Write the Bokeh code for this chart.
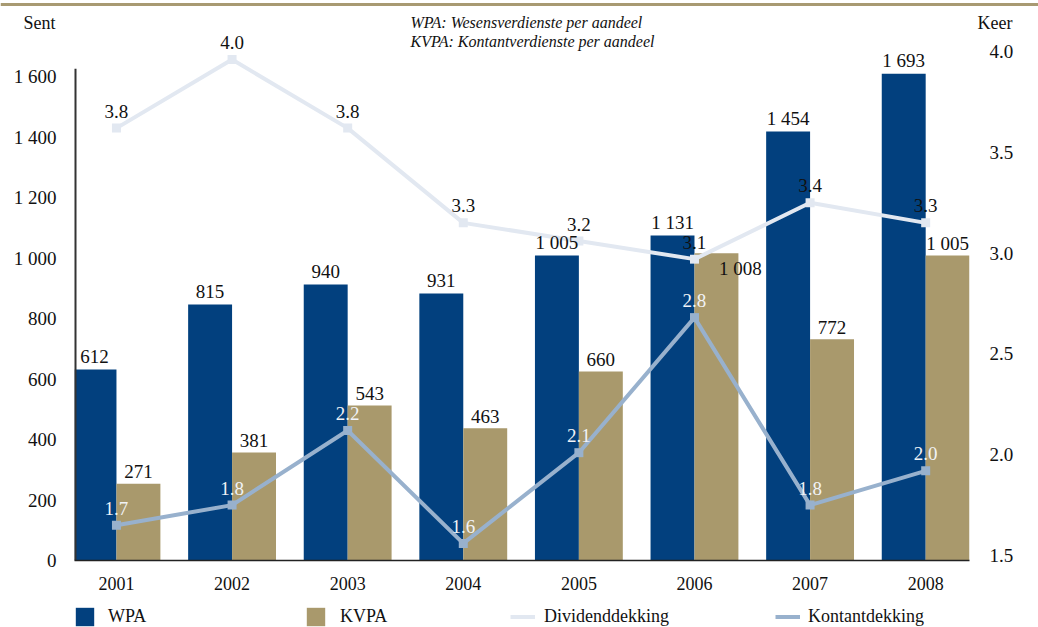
from bokeh.plotting import figure
from bokeh.layouts import column
from bokeh.models import (Range1d, LinearAxis, FixedTicker, Legend, LegendItem, Label,
                          ColumnDataSource, PrintfTickFormatter)
from bokeh.transform import dodge
from bokeh.embed import file_html
from bokeh.resources import INLINE
from bokeh.core.properties import value

# ---------------- data ----------------
years = ["2001", "2002", "2003", "2004", "2005", "2006", "2007", "2008"]
wpa = [631, 846, 912, 883, 1008, 1074, 1418, 1609]          # bar heights as drawn
kvpa = [254, 357, 512, 437, 625, 1016, 731, 1008]
wpa_labels = ["612", "815", "940", "931", "1 005", "1 131", "1 454", "1 693"]
kvpa_labels = ["271", "381", "543", "463", "660", "1 008", "772", "1 005"]
dividend = [3.62, 3.96, 3.62, 3.15, 3.06, 2.97, 3.25, 3.15]
dividend_labels = ["3.8", "4.0", "3.8", "3.3", "3.2", "3.1", "3.4", "3.3"]
kontant = [1.65, 1.75, 2.12, 1.56, 2.01, 2.68, 1.75, 1.92]
kontant_labels = ["1.7", "1.8", "2.2", "1.6", "2.1", "2.8", "1.8", "2.0"]
left_ticks = [0, 200, 400, 600, 800, 1000, 1200, 1400, 1600]
left_tick_labels = ["0", "200", "400", "600", "800", "1 000", "1 200", "1 400", "1 600"]
right_ticks = [1.5, 2.0, 2.5, 3.0, 3.5, 4.0]
series_names = ["WPA", "KVPA", "Dividenddekking", "Kontantdekking"]
left_unit, right_unit = "Sent", "Keer"
note_lines = ["WPA: Wesensverdienste per aandeel", "KVPA: Kontantverdienste per aandeel"]

# ---------------- style ----------------
FONT = "Liberation Serif"
BLUE = "#02407e"
GOLD = "#a9996c"
RULE = "#a89a72"
DIV_C = "#e2e8f1"
KON_C = "#98b1cd"
TXT = "#111111"
W = 1038

idx = list(range(len(years)))
kv_dx = [0] * len(years)
kv_dy = [-12] * len(years)
kv_dx[5] = 24          # crowded 2006 KVPA label sits right of / below the bar top
kv_dy[5] = 15

src = ColumnDataSource(dict(
    x=idx, wpa=wpa, kvpa=kvpa, wpa_lab=wpa_labels, kvpa_lab=kvpa_labels,
    div=dividend, div_lab=dividend_labels, kon=kontant, kon_lab=kontant_labels,
    kv_dx=kv_dx, kv_dy=kv_dy,
))

# ---------------- header strip ----------------
HH = 32
hdr = figure(width=W, height=HH, x_range=Range1d(0, W), y_range=Range1d(HH, 0),
             x_axis_location=None, y_axis_location=None, min_border=0, frame_align=False,
             output_backend="svg", toolbar_location=None)
hdr.grid.visible = False
hdr.outline_line_color = None
hdr.segment(x0=[0], y0=[4], x1=[W], y1=[4], line_color=RULE, line_width=3)
hdr.text(x=[23, 977], y=[22.5, 22.5], text=[left_unit, right_unit], text_font=value(FONT),
         text_font_size="18px", text_color=TXT, text_baseline="middle", text_align="left")
hdr.text(x=[410], y=[21.6], text=[note_lines[0]], text_font=value(FONT), text_font_style="italic",
         text_font_size="16px", text_color=TXT, text_baseline="middle", text_align="left")

# ---------------- main chart ----------------
X_LO, X_HI = -0.363, 7.379
FH = 528
R_PX = 201.6                     # px per unit on the right scale
R_LO = 1.5 - 5 / R_PX            # value at the x-axis line
p = figure(frame_width=895, frame_height=FH,
           x_range=Range1d(X_LO, X_HI), y_range=Range1d(0, FH / 0.3025),
           output_backend="svg", toolbar_location=None, frame_align=False,
           min_border_left=74, min_border_right=69, min_border_top=0, min_border_bottom=37)
p.extra_y_ranges = {"r": Range1d(R_LO, R_LO + FH / R_PX)}
p.grid.visible = False
p.outline_line_color = None

p.xaxis.ticker = FixedTicker(ticks=idx)
p.xaxis.major_label_overrides = {i: y for i, y in zip(idx, years)}
p.xaxis.axis_line_color = "#222222"
p.xaxis.axis_line_width = 1.5
p.xaxis.major_tick_line_color = None
p.xaxis.minor_tick_line_color = None
p.xaxis.major_label_standoff = 10
p.xaxis.major_label_text_font = FONT
p.xaxis.major_label_text_font_size = "18px"
p.xaxis.major_label_text_color = TXT

p.yaxis.ticker = FixedTicker(ticks=left_ticks)
p.yaxis.major_label_overrides = {t: l for t, l in zip(left_ticks, left_tick_labels)}
p.yaxis.axis_line_color = None
p.yaxis.major_tick_line_color = None
p.yaxis.minor_tick_line_color = None
p.yaxis.major_label_standoff = 12
p.yaxis.major_label_text_font = FONT
p.yaxis.major_label_text_font_size = "19px"
p.yaxis.major_label_text_color = TXT

ra = LinearAxis(y_range_name="r", ticker=FixedTicker(ticks=right_ticks),
                formatter=PrintfTickFormatter(format="%.1f"))
ra.axis_line_color = None
ra.major_tick_line_color = None
ra.minor_tick_line_color = None
ra.major_label_standoff = 14
ra.major_label_text_font = FONT
ra.major_label_text_font_size = "19px"
ra.major_label_text_color = TXT
p.add_layout(ra, "right")

p.vbar(x=dodge("x", -0.19, range=p.x_range), top="wpa", width=0.38, bottom=0,
       source=src, fill_color=BLUE, line_color=None)
p.vbar(x=dodge("x", 0.19, range=p.x_range), top="kvpa", width=0.38, bottom=0,
       source=src, fill_color=GOLD, line_color=None)

# left axis line, stopping below the frame top as in the original
p.segment(x0=[X_LO], y0=[0], x1=[X_LO], y1=[1626], line_color="#333333", line_width=4)

p.line(x="x", y="div", source=src, y_range_name="r", line_color=DIV_C, line_width=4)
p.scatter(x="x", y="div", source=src, y_range_name="r", marker="square", size=9,
          fill_color=DIV_C, line_color=None)
p.line(x="x", y="kon", source=src, y_range_name="r", line_color=KON_C, line_width=4)
p.scatter(x="x", y="kon", source=src, y_range_name="r", marker="square", size=9,
          fill_color=KON_C, line_color=None)

common = dict(text_font=value(FONT), text_font_size="19px", text_align="center",
              text_baseline="middle", source=src)
p.text(x=dodge("x", -0.19, range=p.x_range), y="wpa", text="wpa_lab", y_offset=-13,
       text_color=TXT, **common)
p.text(x=dodge("x", 0.19, range=p.x_range), y="kvpa", text="kvpa_lab",
       x_offset="kv_dx", y_offset="kv_dy", text_color=TXT, **common)
p.text(x="x", y="div", text="div_lab", y_range_name="r", y_offset=-17,
       text_color=TXT, **common)
p.text(x="x", y="kon", text="kon_lab", y_range_name="r", y_offset=-17,
       text_color="#f1f3f7", **common)

# second note line (inside the frame area)
p.add_layout(Label(x=410 - 74, y=FH - (40.6 - HH), x_units="screen", y_units="screen",
                   text=note_lines[1], text_font=FONT, text_font_size="16px",
                   text_font_style="italic", text_color=TXT, text_baseline="middle"))

# ---------------- legend strip ----------------
MH = 565
LH = 627 - HH - MH
lg = figure(width=W, height=LH, x_range=Range1d(0, W), y_range=Range1d(0, LH),
            x_axis_location=None, y_axis_location=None, min_border=0, frame_align=False,
            output_backend="svg", toolbar_location=None)
lg.grid.visible = False
lg.outline_line_color = None
# key-only renderers (their single point lies outside the strip's ranges)
k_wpa = lg.vbar(x=[-100], top=[-100], bottom=[-101], width=1, fill_color=BLUE, line_color=None)
k_kvpa = lg.vbar(x=[-100], top=[-100], bottom=[-101], width=1, fill_color=GOLD, line_color=None)
k_div = lg.line(x=[-110, -100], y=[-100, -100], line_color=DIV_C, line_width=4)
k_kon = lg.line(x=[-110, -100], y=[-100, -100], line_color=KON_C, line_width=4)

top0 = HH + MH   # canvas y of legend strip top

def add_leg(label, rend, left, top, gw, standoff):
    leg = Legend(items=[LegendItem(label=label, renderers=[rend])],
                 location=(left, LH - (top - top0) - 23), orientation="horizontal",
                 glyph_width=gw, glyph_height=23, label_standoff=standoff,
                 padding=0, margin=0, spacing=0, border_line_color=None,
                 background_fill_alpha=0, label_text_font=FONT,
                 label_text_font_size="18px", label_text_color=TXT,
                 label_text_baseline="middle")
    lg.add_layout(leg)

add_leg(series_names[0], k_wpa, 73, 605, 23, 12)
add_leg(series_names[1], k_kvpa, 304, 605, 23, 13)
add_leg(series_names[2], k_div, 510, 605, 25, 9)
add_leg(series_names[3], k_kon, 775, 605, 25, 8)

page = column(hdr, p, lg, spacing=0)
open("out.html", "w").write(file_html(page, INLINE))
